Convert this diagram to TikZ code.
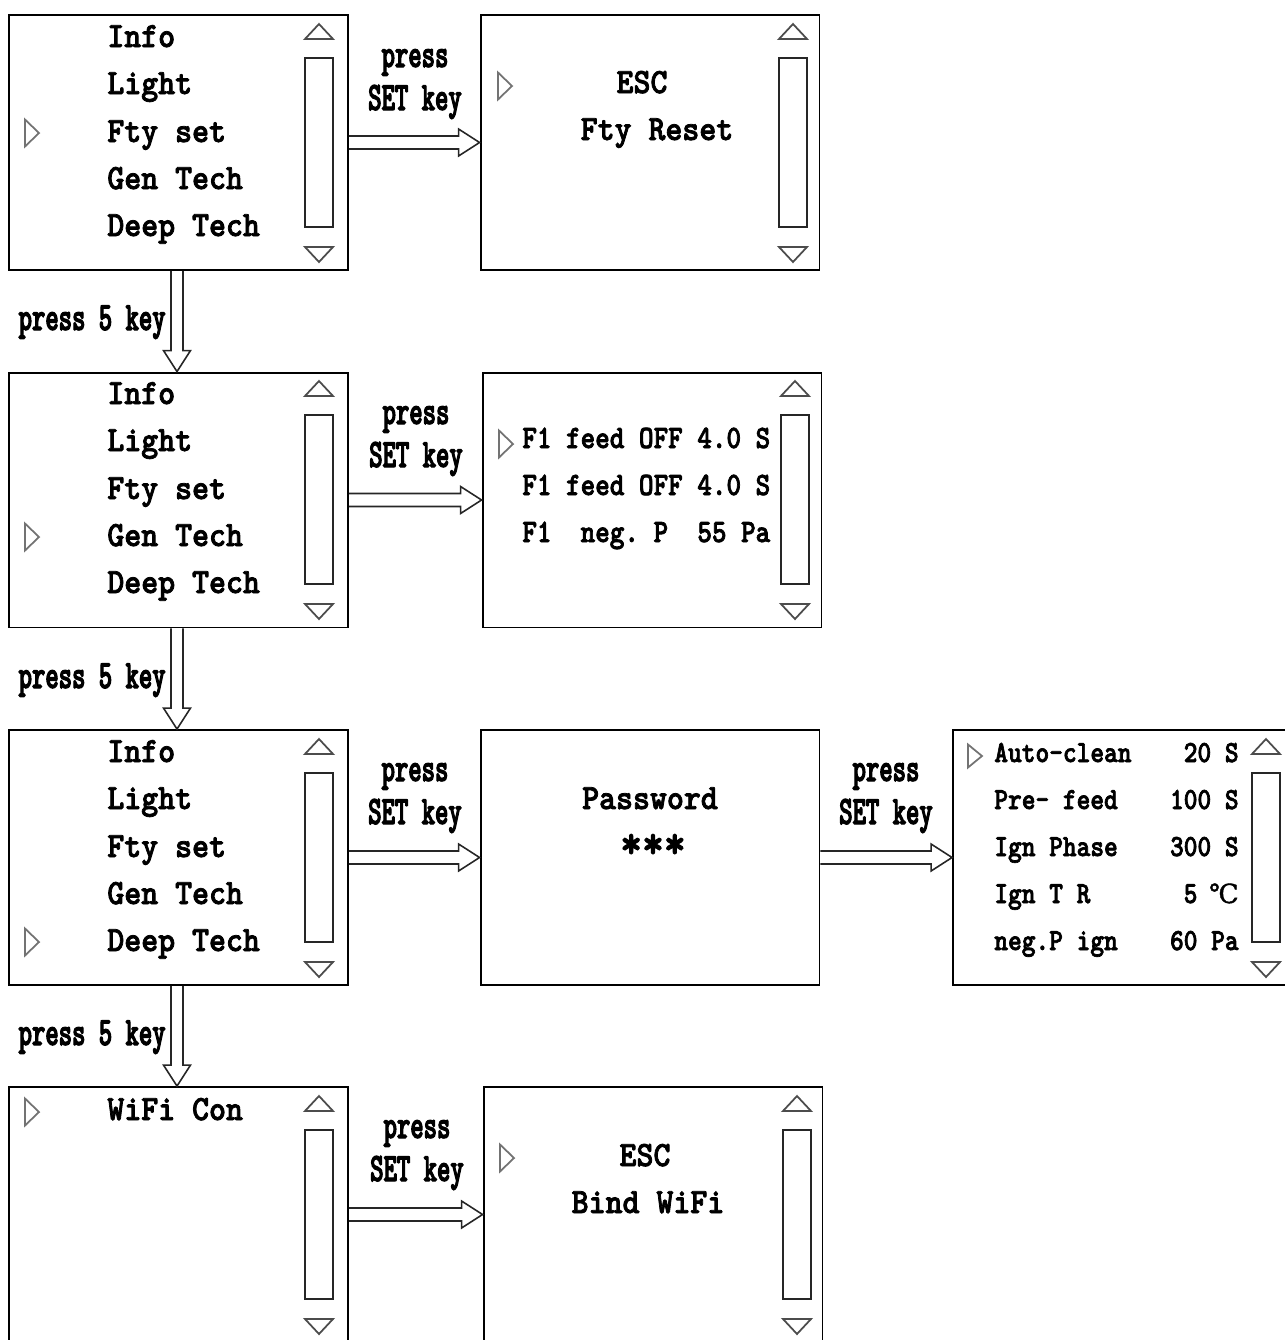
\documentclass[tikz,border=0pt]{standalone}
\usepackage{fontspec}
\usetikzlibrary{calc}
\newfontfamily\menufont[FakeStretch=0.91, FakeBold=2.2]{lmmonolt10-bold.otf}
\newfontfamily\itemfont[FakeStretch=0.85, FakeBold=2.2]{lmmonolt10-bold.otf}
\newfontfamily\keyfont[FakeStretch=0.63, FakeBold=2.6]{lmmonolt10-bold.otf}
\newfontfamily\symfont[FakeBold=1.5]{DejaVu Serif}
\frenchspacing

% hollow arrow from box #1 to the box #2 on its right
\newcommand{\sidearrow}[2]{%
  \draw[hollow] ($(#1.east)+(0,6.5)$) -- ($(#2.west)+(-21,6.5)$) -- ($(#2.west)+(-21,13.5)$)
    -- (#2.west) -- ($(#2.west)+(-21,-13.5)$) -- ($(#2.west)+(-21,-6.5)$) -- ($(#1.east)+(0,-6.5)$);}
% hollow arrow from box #1 to the box #2 below it
\newcommand{\droparrow}[2]{%
  \draw[hollow] ($(#1.south)+(-7.5,0)$) -- ($(#2.north)+(-7.5,-21)$) -- ($(#2.north)+(-15,-21)$)
    -- ($(#2.north)+(-1.5,0)$) -- ($(#2.north)+(12,-21)$) -- ($(#2.north)+(4.5,-21)$) -- ($(#1.south)+(4.5,0)$);}

\begin{document}
\begin{tikzpicture}[x=0.02cm, y=-0.02cm,
    screen/.style={draw, line width=1.1pt, minimum width=6.78cm, minimum height=5.1cm, inner sep=0},
    menu/.style={font=\menufont\fontsize{20.2}{24}\selectfont, anchor=base west, inner sep=0},
    item/.style={font=\itemfont\fontsize{18.6}{22}\selectfont, anchor=base west, inner sep=0},
    small/.style={font=\itemfont\fontsize{17.5}{21}\selectfont, anchor=base west, inner sep=0},
    key/.style={font=\keyfont\fontsize{23}{27}\selectfont, anchor=base, inner sep=0},
    hollow/.style={line width=0.9pt, black!85, line join=miter},
    cursor/.style={line width=1pt, black!55},
    bar/.style={line width=1pt, black!85}]
    \useasboundingbox (0,0) rectangle (1285,1340);
    \clip (0,0) rectangle (1285,1340);

    % Screens
    \node[screen] (menuA) at (178.5,142.5) {};
    \node[screen] (resetA) at (650,142.5) {};
    \node[screen] (menuB) at (178.5,500) {};
    \node[screen] (feedB) at (652,500) {};
    \node[screen] (menuC) at (178.5,857.5) {};
    \node[screen] (pwdC) at (650,857.5) {};
    \node[screen, minimum width=6.8cm] (deepC) at (1123,857.5) {};
    \node[screen] (menuD) at (178.5,1214.5) {};
    \node[screen] (wifiD) at (653,1214.5) {};

    % Scroll bars
    \foreach \sx/\sy in {305/15, 779/15, 305/372, 781/372, 305/730, 1252/730, 305/1087, 783/1087} {
        \draw[bar] (\sx,\sy+43) rectangle (\sx+28,\sy+212);
        \draw[cursor, black!70] (\sx,\sy+24) -- (\sx+14,\sy+9) -- (\sx+28,\sy+24) -- cycle;
        \draw[cursor, black!70] (\sx,\sy+232) -- (\sx+14,\sy+247) -- (\sx+28,\sy+232) -- cycle;
    }

    % Cursors
    \draw[cursor] (25,119.5) -- (39,133) -- (25,146.5) -- cycle;
    \draw[cursor] (498,72.5) -- (512,86) -- (498,99.5) -- cycle;
    \draw[cursor] (25,523.5) -- (39,537) -- (25,550.5) -- cycle;
    \draw[cursor] (499,430.5) -- (513,444) -- (499,457.5) -- cycle;
    \draw[cursor] (25,928.5) -- (39,942) -- (25,955.5) -- cycle;
    \draw[cursor] (968,744.5) -- (982,756) -- (968,767.5) -- cycle;
    \draw[cursor] (25,1098.5) -- (39,1112) -- (25,1125.5) -- cycle;
    \draw[cursor] (500,1144.5) -- (514,1158) -- (500,1171.5) -- cycle;

    % Row 1
    \node[menu] (infoA) at (107,47) {Info};
    \node[menu] (lightA) at (107,94) {Light};
    \node[menu] (ftyA) at (107,142) {Fty set};
    \node[menu] (genA) at (107,189) {Gen Tech};
    \node[menu] (deepA) at (107,236) {Deep Tech};
    \node[menu, anchor=base] (escA) at (642,93) {ESC};
    \node[menu, anchor=base] (ftyresetA) at (657,140) {Fty Reset};

    % Row 2
    \node[menu] (infoB) at (107,404) {Info};
    \node[menu] (lightB) at (107,451) {Light};
    \node[menu] (ftyB) at (107,499) {Fty set};
    \node[menu] (genB) at (107,546) {Gen Tech};
    \node[menu] (deepB) at (107,593) {Deep Tech};
    \node[item] (feedoneB) at (522,448) {F1 feed OFF 4.0 S};
    \node[item] (feedtwoB) at (522,495) {F1 feed OFF 4.0 S};
    \node[item] (negpB) at (522,542) {F1~~neg.~P~~55~Pa};

    % Row 3
    \node[menu] (infoC) at (107,762) {Info};
    \node[menu] (lightC) at (107,809) {Light};
    \node[menu] (ftyC) at (107,857) {Fty set};
    \node[menu] (genC) at (107,904) {Gen Tech};
    \node[menu] (deepCC) at (107,951) {Deep Tech};
    \node[menu, anchor=base] (pwdtext) at (650,809) {Password};
    \node[menu, anchor=base, font=\menufont\fontsize{26}{30}\selectfont] (pwdstars) at (653,858) {***};
    \node[small] (cleanC) at (994,762) {Auto-clean};
    \node[small] (prefeedC) at (994,809) {Pre-~feed};
    \node[small] (phaseC) at (994,856) {Ign~Phase};
    \node[small] (tempC) at (994,903) {Ign~T~R};
    \node[small] (negpC) at (994,950) {neg.P~ign};
    \node[small, anchor=base east] (cleanv) at (1239,762) {20~S};
    \node[small, anchor=base east] (prefeedv) at (1239,809) {100~S};
    \node[small, anchor=base east] (phasev) at (1239,856) {300~S};
    \node[small, anchor=base east] (tempv) at (1239,903) {5~\makebox[0.55cm][r]{\symfont\fontsize{15}{18}\selectfont ℃}};
    \node[small, anchor=base east] (negpv) at (1239,950) {60~Pa};

    % Row 4
    \node[menu] (wifiText) at (107,1120) {WiFi Con};
    \node[menu, anchor=base] (escD) at (645,1166) {ESC};
    \node[menu, anchor=base] (bindD) at (648,1213) {Bind WiFi};

    % Key presses
    \sidearrow{menuA}{resetA}
    \node[key] (pressA) at (415,67) {press};
    \node[key] (setA) at (415,110) {SET key};
    \droparrow{menuA}{menuB}
    \node[key, anchor=base east] (fiveA) at (166,330) {press 5 key};

    \sidearrow{menuB}{feedB}
    \node[key] (pressB) at (416,424) {press};
    \node[key] (setB) at (416,467) {SET key};
    \droparrow{menuB}{menuC}
    \node[key, anchor=base east] (fiveB) at (166,688) {press 5 key};

    \sidearrow{menuC}{pwdC}
    \node[key] (pressC) at (415,781) {press};
    \node[key] (setC) at (415,824) {SET key};
    \sidearrow{pwdC}{deepC}
    \node[key] (pressCC) at (886,781) {press};
    \node[key] (setCC) at (886,824) {SET key};
    \droparrow{menuC}{menuD}
    \node[key, anchor=base east] (fiveC) at (166,1045) {press 5 key};

    \sidearrow{menuD}{wifiD}
    \node[key] (pressD) at (417,1138) {press};
    \node[key] (setD) at (417,1181) {SET key};
\end{tikzpicture}
\end{document}
